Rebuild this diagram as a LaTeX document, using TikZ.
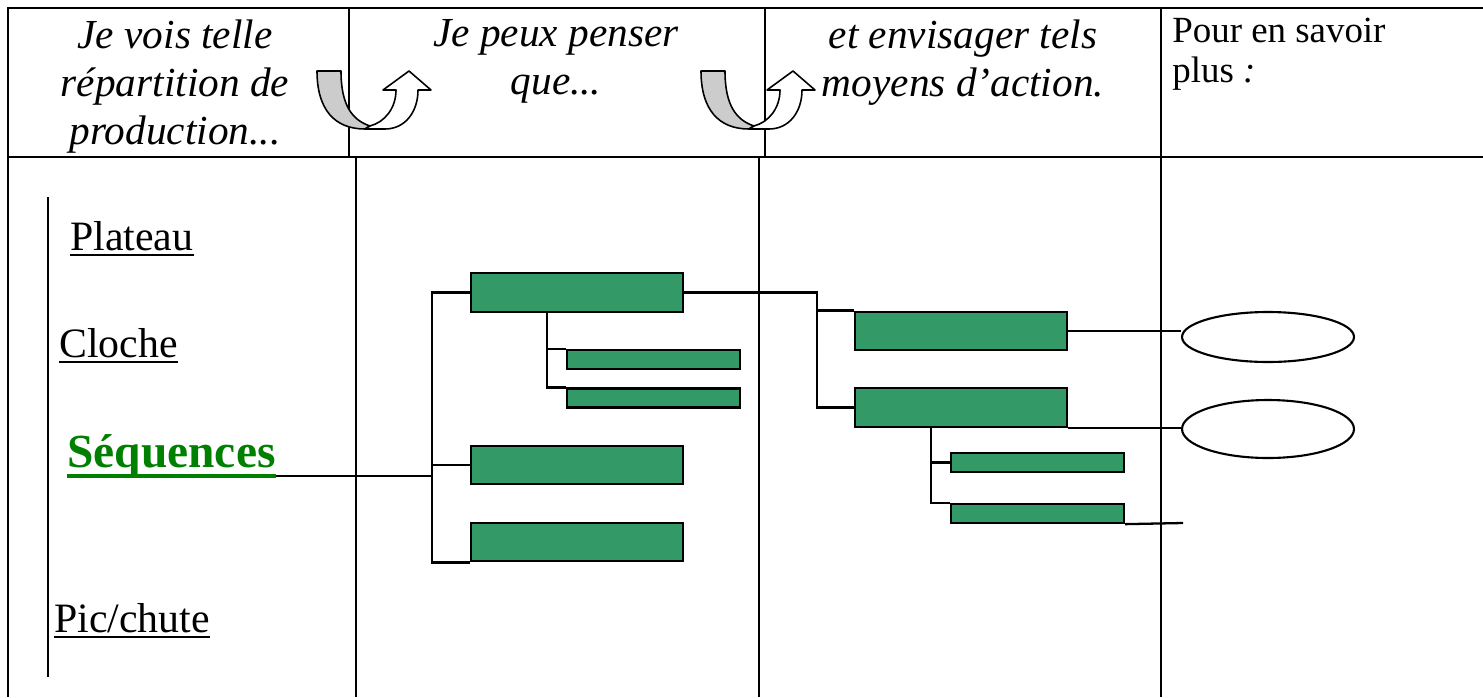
\documentclass[tikz,border=0pt]{standalone}
\usepackage{fontspec}
\setmainfont{Liberation Serif}
\usetikzlibrary{shapes.geometric}
\definecolor{barvert}{RGB}{51,153,102}
\definecolor{seqvert}{RGB}{0,128,0}
\definecolor{flechegris}{RGB}{204,204,204}

\begin{document}
\begin{tikzpicture}[x=0.02cm, y=-0.02cm,
	tbl/.style={line width=1.7pt},
	sep/.style={line width=1.1pt},
	lien/.style={line width=1.3pt},
	barre/.style={draw, line width=1.3pt, fill=barvert, inner sep=0pt, minimum width=4.24cm, minimum height=0.77cm},
	petite/.style={barre, minimum width=3.46cm, minimum height=0.38cm},
	bulle/.style={draw, ellipse, line width=1.2pt, fill=white, inner sep=0pt, minimum width=3.44cm},
	entete/.style={font=\fontsize{23.5}{27.5}\selectfont\itshape, align=center, anchor=north, inner sep=0pt},
	forme/.style={font=\fontsize{23.8}{28}\selectfont, anchor=base west, inner sep=0pt},
	souligne/.style={line width=1.2pt},
	fleche/.style={line width=0.9pt, line join=round}]
		\useasboundingbox (0,0) rectangle (1483,697);
		
		\draw[tbl] (1483,8) -- (8,8) -- (8,697);
		\draw[tbl] (8,157) -- (1483,157);
		\draw[sep] (349,8) -- (349,157); \draw[sep] (765,8) -- (765,157);
		\draw[sep] (356,157) -- (356,697); \draw[sep] (759,157) -- (759,697);
		\draw[line width=1.4pt] (1161,8) -- (1161,697);
		\draw[sep] (48,197) -- (48,677);
		
		\node[entete] (h1) at (175,19) {Je vois telle\\répartition de\\production...};
		\node[entete] (h2) at (556,19) {Je peux penser\\que...};
		\node[entete] (h3) at (963,19) {et envisager tels\\moyens d’action.};
		\node[font=\fontsize{21}{22.5}\selectfont, align=left, anchor=north west, inner sep=0pt] (h4) at (1172,18) {Pour en savoir\\plus \textit{:}};
		
		\foreach \dx in {0,384} {
			\begin{scope}[shift={(\dx,0)}]
				\filldraw[fleche, fill=flechegris] (317,71) -- (341,71) .. controls (341,105) and (352,120) .. (370,126) -- (365,129) .. controls (335,129) and (317,110) .. cycle;
				\filldraw[fleche, fill=white] (365,129) -- (385,129) .. controls (405,129) and (418,112) .. (418,90) -- (431,90) -- (409,71) -- (383,90) -- (396,90) .. controls (396,108) and (385,122) .. (370,126) -- cycle;
			\end{scope}
		}
		
		\node[forme] (plateau) at (70,250) {Plateau};
		\node[forme] (cloche) at (59,357) {Cloche};
		\node[forme, font=\fontsize{27}{32}\selectfont\bfseries, text=seqvert] (seq) at (67,467) {Séquences};
		\node[forme] (pic) at (54,632) {Pic/chute};
		\foreach \n in {plateau,cloche,pic}
			\draw[souligne] ([yshift=-0.1cm]\n.base west) -- ([yshift=-0.1cm]\n.base east);
		\draw[line width=2.2pt, seqvert] ([yshift=-0.18cm]seq.base west) -- ([yshift=-0.18cm]seq.base east);
		
		\node[barre] (A) at (577,292.5) {};
		\node[petite] (B1) at (653.5,359.5) {};
		\node[petite] (B2) at (653.5,398) {};
		\node[barre] (C) at (577,465) {};
		\node[barre] (D) at (577,542) {};
		\node[barre] (E1) at (961,331) {};
		\node[barre] (E2) at (961,407.5) {};
		\node[petite] (F1) at (1037.5,462.5) {};
		\node[petite] (F2) at (1037.5,513.5) {};
		\node[bulle, minimum height=1cm] (L1) at (1268,337) {};
		\node[bulle, minimum height=1.16cm] (L2) at (1268,429) {};
		
		\coordinate (seqfin) at ([yshift=-0.18cm]seq.base east);
		\coordinate (crochetG) at (432,0);
		\coordinate (crochetD) at (817,0);
		\coordinate (tigeA) at ([xshift=1.54cm]A.south west);
		\coordinate (tigeE) at ([xshift=1.54cm]E2.south west);
		\coordinate (finF) at (1183,523);
		
		\draw[lien] (A.west) -- (A.west -| crochetG) |- (D.south west);
		\draw[lien] (C.west) -- (C.west -| crochetG);
		\draw[lien] (seqfin) -- (seqfin -| crochetG);
		\draw[lien] (tigeA) |- (B2.north west);
		\draw[lien] (tigeA |- B1.north west) -- (B1.north west);
		\draw[lien] (A.east) -- (A.east -| crochetD) |- (E2.west);
		\draw[lien] (E1.north west -| crochetD) -- (E1.north west);
		\draw[lien] (E1.east) -- (E1.east -| L1.west);
		\draw[lien] (E2.south east) -- (E2.south east -| L2.west);
		\draw[lien] (tigeE) |- (F2.north west);
		\draw[lien] (tigeE |- F1.west) -- (F1.west);
		\draw[lien] (F2.south east) -- (finF);
\end{tikzpicture}
\end{document}
